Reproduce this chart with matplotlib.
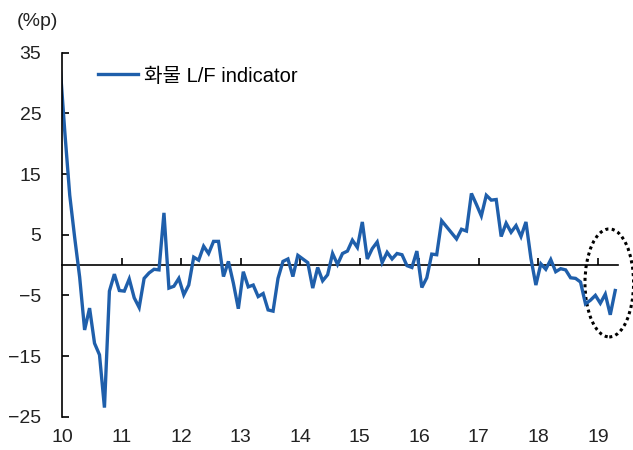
import numpy as np
import matplotlib
matplotlib.use('Agg')
import matplotlib.pyplot as plt
from matplotlib.patches import Ellipse

plt.rcParams['font.family'] = ['Liberation Sans', 'Noto Sans CJK KR']
plt.rcParams['axes.unicode_minus'] = True

# monthly values, Dec 2009 (clipped at the axis) .. Apr 2019
lf_indicator = [
    33.5,
    22.0, 11.5, 4.5, -2.0, -10.7, -7.1, -12.9, -14.8, -23.5, -4.3, -1.5, -4.2,   # 2010
    -4.3, -2.3, -5.4, -7.0, -2.2, -1.3, -0.7, -0.8, 8.6, -3.8, -3.5, -2.2,       # 2011
    -4.9, -3.3, 1.3, 0.8, 3.1, 1.9, 3.9, 3.9, -1.9, 0.6, -3.0, -7.2,             # 2012
    -1.1, -3.6, -3.3, -5.2, -4.7, -7.4, -7.6, -2.2, 0.6, 1.0, -1.9, 1.6,         # 2013
    1.0, 0.4, -3.8, -0.4, -2.6, -1.6, 1.9, 0.1, 1.9, 2.3, 4.1, 2.9,              # 2014
    7.1, 1.0, 2.7, 3.8, 0.4, 2.1, 1.0, 1.9, 1.7, -0.1, -0.4, 2.3,                # 2015
    -3.7, -2.1, 1.8, 1.7, 7.3, 6.3, 5.3, 4.3, 5.9, 5.6, 11.8, 10.0,              # 2016
    8.1, 11.5, 10.7, 10.8, 4.7, 6.9, 5.4, 6.5, 4.7, 7.1, 1.1, -3.3,              # 2017
    0.2, -0.7, 0.9, -1.1, -0.6, -0.8, -2.1, -2.2, -2.8, -6.4, -5.8, -5.0,        # 2018
    -6.3, -4.8, -8.2, -4.2,                                                      # 2019
]
year_labels = ['10', '11', '12', '13', '14', '15', '16', '17', '18', '19']
y_ticks = [-25, -15, -5, 5, 15, 25, 35]
series_name = '화물 L/F indicator'

n_months = len(lf_indicator) - 1
x = np.arange(len(lf_indicator)) - 0.5  # points sit mid-month
year_pos = np.arange(len(year_labels)) * 12

fig = plt.figure(figsize=(6.33, 4.5), dpi=100)
ax = fig.add_axes([62.3 / 633, 1 - 416.7 / 450, (617.7 - 62.3) / 633, 364 / 450])

ax.plot(x, lf_indicator, color='#1f5fab', lw=2.4, solid_joinstyle='miter',
        label=series_name)

ax.set_xlim(0, n_months)
ax.set_ylim(-25, 35)

for s in ['top', 'right', 'bottom']:
    ax.spines[s].set_visible(False)
ax.spines['left'].set_linewidth(1.2)

ax.set_yticks(y_ticks)
ax.tick_params(axis='y', direction='in', length=5, width=1.2, pad=15,
               labelsize=14, labelcolor='#222222')
ax.set_xticks(year_pos)
ax.set_xticklabels(year_labels)
ax.tick_params(axis='x', length=0, pad=9, labelsize=14, labelcolor='#222222')

# zero line with year ticks
zero = ax.secondary_xaxis(25 / 60)
zero.set_xticks(year_pos[1:])
zero.tick_params(direction='in', length=5, width=1.2, labelbottom=False, labeltop=False)
for s in zero.spines.values():
    s.set_linewidth(1.2)

ring = Ellipse((110.3, -2.95), 9.8, 17.8, fill=False, edgecolor='black',
               lw=2.2, linestyle=(0, (1, 1.1)), clip_on=False)
ax.add_patch(ring)

ax.legend(loc='center left', bbox_to_anchor=(98 / 633, 1 - 76 / 450),
          bbox_transform=fig.transFigure, frameon=False, fontsize=14.5,
          handlelength=2.0, handletextpad=0.3, borderpad=0, borderaxespad=0)

fig.text(17 / 633, 1 - 22 / 450, '(%p)', ha='left', va='center',
         fontsize=14, color='#222222')

fig.savefig('out.png', dpi=100)
